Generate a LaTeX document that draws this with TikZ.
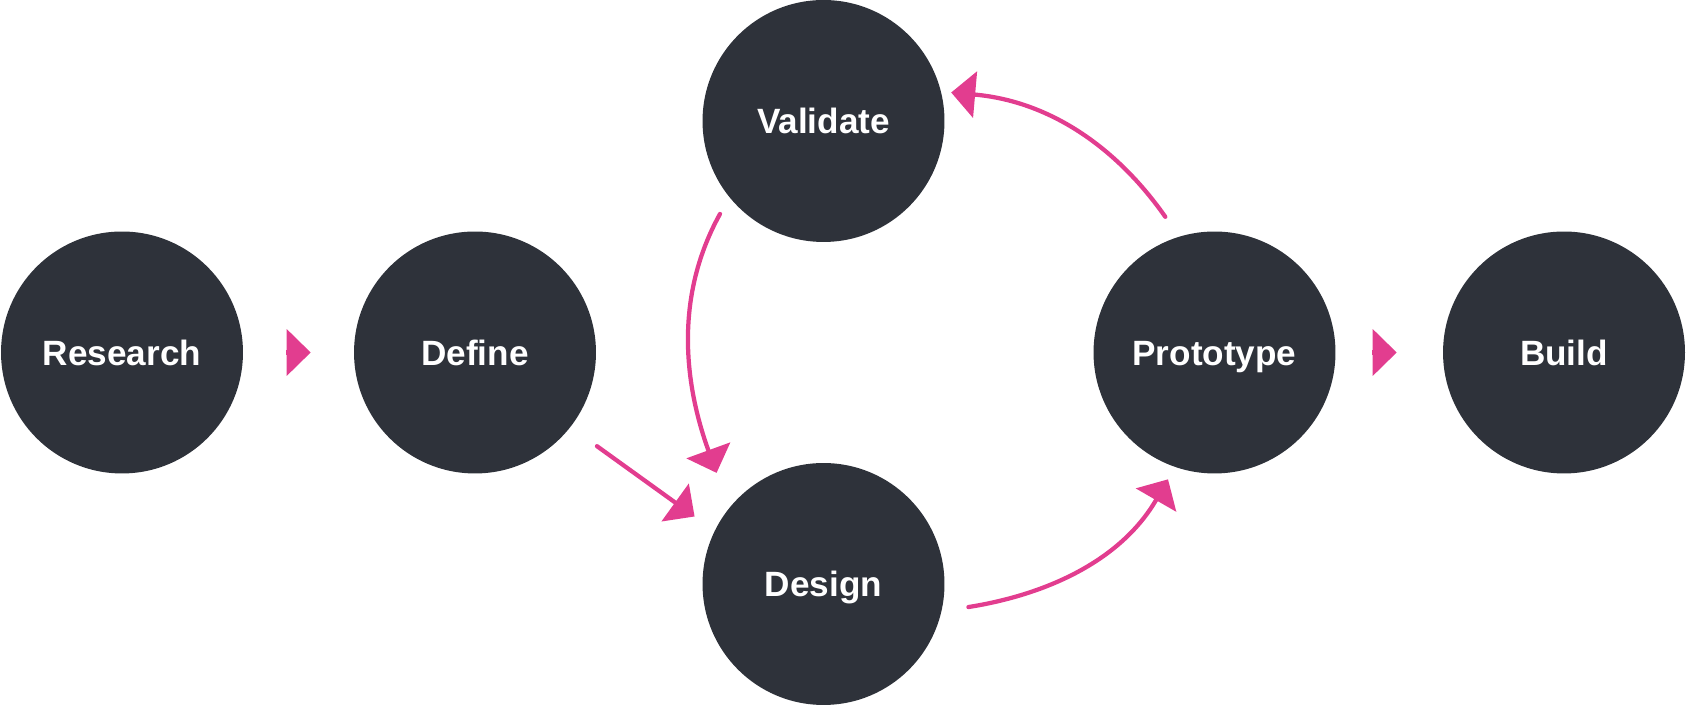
\documentclass[tikz,border=0pt]{standalone}
\usepackage{fontspec}
\setmainfont{Liberation Sans}
\usetikzlibrary{arrows.meta}
\definecolor{slate}{HTML}{2E323A}
\definecolor{flowpink}{HTML}{E23D8F}

\begin{document}
\begin{tikzpicture}[x=0.02cm,y=0.02cm,
    stage/.style={circle,fill=slate,text=white,minimum size=4.84cm,inner sep=0pt,
      text height=14.3pt,text depth=0pt,font=\fontsize{20}{24}\selectfont\bfseries},
    flow/.style={draw=flowpink,line width=0.085cm,line cap=round,
      -{Triangle[length=0.48cm,width=0.92cm]}}]
    \useasboundingbox (0,0) rectangle (1689,705);
    \node[stage] (research) at (122,352.5) {Research};
    \node[stage] (define) at (475,352.5) {Define};
    \node[stage] (validate) at (823.5,584) {Validate};
    \node[stage] (design) at (823.5,121) {Design};
    \node[stage] (prototype) at (1214.5,352.5) {Prototype};
    \node[stage] (build) at (1564,352.5) {Build};
    % straight steps
    \draw[flow,line cap=butt,shorten <=0.86cm,shorten >=0.86cm] (research) -- (define);
    \draw[flow,line cap=butt,shorten <=0.73cm,shorten >=0.92cm] (prototype) -- (build);
    \draw[flow,shorten <=0.65cm,shorten >=0.49cm] (define.-38.5) -- (design.154);
    % the loop
    \draw[flow,shorten <=0.38cm,shorten >=0.74cm] (validate.219) to[out=-119,in=110] (design.141);
    \draw[flow,shorten <=0.54cm,shorten >=0.28cm] (design.-13) to[out=9,in=240] (prototype.251);
    \draw[flow,shorten <=0.48cm,shorten >=0.2cm] (prototype.107) to[out=125,in=-5] (validate.14);
\end{tikzpicture}
\end{document}
